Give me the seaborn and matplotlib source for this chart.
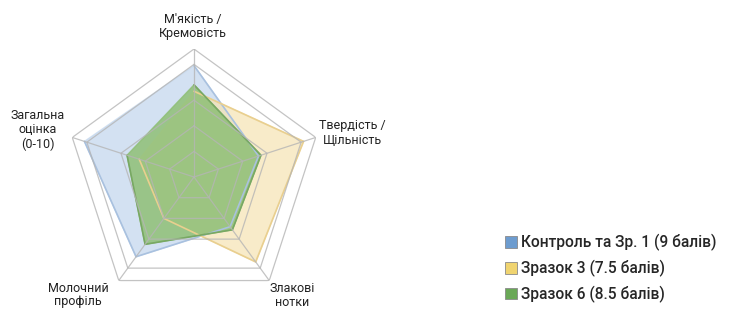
import numpy as np
import matplotlib
matplotlib.use("Agg")
import matplotlib.pyplot as plt
from matplotlib.patches import Patch
import seaborn as sns

# categories clockwise from the top
categories = ["М'якість /\nКремовість", "Твердість /\nЩільність", "Злакові\nнотки",
              "Молочний\nпрофіль", "Загальна\nоцінка\n(0-10)"]
series_names = ["Контроль та Зр. 1 (9 балів)", "Зразок 3 (7.5 балів)", "Зразок 6 (8.5 балів)"]
control = [8.7, 5.3, 4.8, 7.7, 9.0]
sample3 = [6.7, 9.0, 8.2, 4.0, 4.5]
sample6 = [7.2, 5.5, 5.1, 6.5, 5.5]
ring_levels = [2, 4, 6, 8.8, 10]

sns.set_theme(style="white")
plt.rcParams['font.family'] = ['Roboto', 'DejaVu Sans']

fills = ["#c5d8ee", "#f6e3b2", "#8fbf76"]
edges = ["#a9c1df", "#e9cf8f", "#78a863"]
legend_cols = ["#6d9ccf", "#f0d470", "#6aa857"]
alphas = [0.75, 0.7, 0.85]

fig = plt.figure(figsize=(7.29, 3.12), dpi=100)
R = 128
cx, cy = 194, 312 - 177
ax = fig.add_axes([(cx - R) / 729, (cy - R) / 312, 2 * R / 729, 2 * R / 312], polar=True)
ax.set_theta_offset(np.pi / 2)
ax.set_theta_direction(-1)
ax.set_ylim(0, 10)

n = len(categories)
angles = np.linspace(0, 2 * np.pi, n, endpoint=False)
closed = np.append(angles, angles[0])

for vals, fc, ec, a in zip([control, sample3, sample6], fills, edges, alphas):
    v = np.append(vals, vals[0])
    ax.fill(closed, v, color=fc, alpha=a, zorder=2)
    sns.lineplot(x=closed, y=v, ax=ax, sort=False, color=ec, lw=1.2, zorder=3)

# pentagon grid
for lv in ring_levels:
    ax.plot(closed, [lv] * (n + 1), color="#b5b5b5", lw=0.9, zorder=4, alpha=0.8)
for a in angles:
    ax.plot([a, a], [0, 10], color="#b5b5b5", lw=0.9, zorder=4, alpha=0.8)

ax.grid(False)
ax.spines['polar'].set_visible(False)
ax.set_xticks([])
ax.set_yticks([])
ax.set_facecolor("none")

# label centres in pixels (from top-left)
label_pos = [(193, 26), (352, 133), (292, 296), (78, 295), (38, 130)]
for lab, (px, py) in zip(categories, label_pos):
    fig.text(px / 729, 1 - py / 312, lab, ha="center", va="center", fontsize=9,
             color="#222222", linespacing=1.1)

handles = [Patch(facecolor=c, edgecolor="#8a8a8a", lw=0.6) for c in legend_cols]
fig.legend(handles, series_names, loc="lower left", bbox_to_anchor=(0.68, 0.0),
           frameon=False, prop={'size': 11.2, 'weight': 'medium'},
           handlelength=0.8, handleheight=0.8,
           handletextpad=0.25, labelspacing=0.55, borderaxespad=0.2)

fig.savefig("out.png", dpi=100)
